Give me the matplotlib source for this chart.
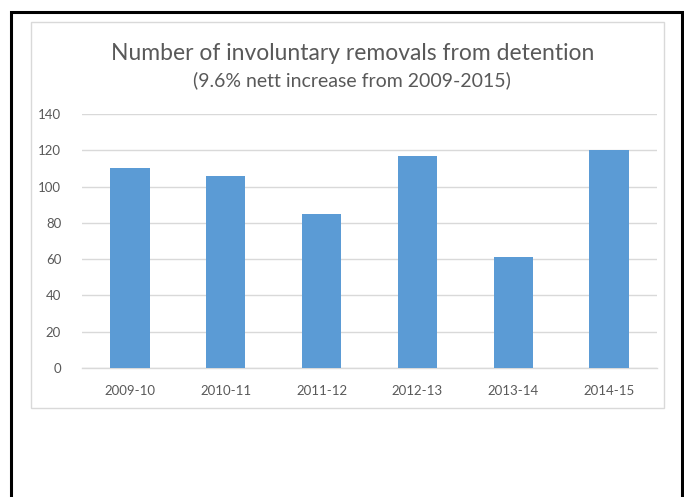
import matplotlib
matplotlib.use("Agg")
import matplotlib.pyplot as plt
from matplotlib.lines import Line2D
from matplotlib.patches import Rectangle

categories = ["2009-10", "2010-11", "2011-12", "2012-13", "2013-14", "2014-15"]
values = [110, 106, 85, 117, 61, 120]
yticks = [0, 20, 40, 60, 80, 100, 120, 140]
title = "Number of involuntary removals from detention"
subtitle = "(9.6% nett increase from 2009-2015)"

W, H = 684, 497
fig = plt.figure(figsize=(W / 100, H / 100), dpi=100)
plt.rcParams['font.family'] = ['Lato', 'DejaVu Sans']

def fx(px):
    return px / W

def fy(py):
    return 1 - py / H

# outer black frame (left, top, right)
fig.add_artist(Line2D([fx(11), fx(11), fx(682), fx(682)],
                      [fy(500), fy(12), fy(12), fy(500)],
                      transform=fig.transFigure, color="black", lw=2.2,
                      solid_joinstyle="miter"))
# inner gray chart frame
fig.add_artist(Rectangle((fx(31), fy(408)), fx(664) - fx(31), fy(22) - fy(408),
                         transform=fig.transFigure, fill=False,
                         edgecolor="#d9d9d9", lw=1.0))

ax = fig.add_axes([fx(82), fy(368), fx(657) - fx(82), fy(114) - fy(368)])
x = range(len(categories))
ax.bar(x, values, width=0.41, color="#5b9bd5", zorder=3)
ax.set_xlim(-0.5, len(categories) - 0.5)
ax.set_ylim(0, 140)
ax.set_yticks(yticks)
ax.set_xticks(list(x))
ax.set_xticklabels(categories)
ax.grid(axis="y", color="#d9d9d9", lw=1.0, zorder=0)
for s in ["top", "right", "left"]:
    ax.spines[s].set_visible(False)
ax.spines["bottom"].set_color("#d9d9d9")
ax.spines["bottom"].set_linewidth(1.0)
ax.tick_params(axis="both", length=0, colors="#595959", labelsize=9.5)
ax.tick_params(axis="y", pad=15)
ax.tick_params(axis="x", pad=12)

fig.text(fx(353), fy(53), title, ha="center", va="center",
         fontsize=16.5, color="#595959")
fig.text(fx(352), fy(80), subtitle, ha="center", va="center",
         fontsize=14, color="#595959")

fig.savefig("out.png", dpi=100, facecolor="white")
